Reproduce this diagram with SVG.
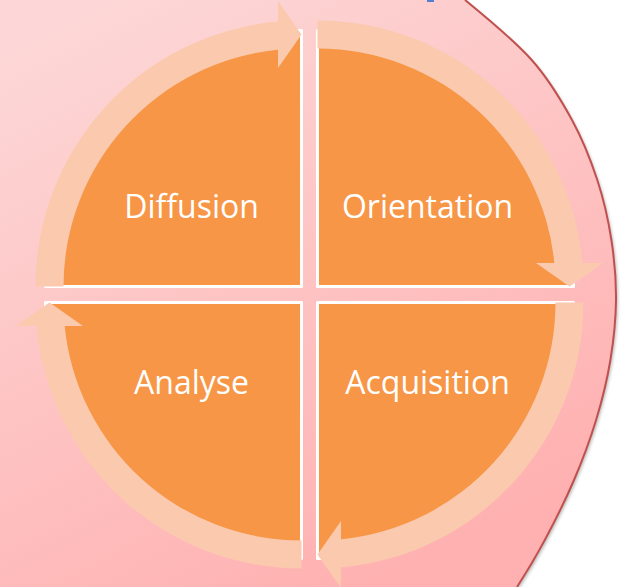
<svg xmlns="http://www.w3.org/2000/svg" width="624" height="587" viewBox="0 0 624 587">
  <defs>
    <linearGradient id="bg" gradientUnits="userSpaceOnUse" x1="100" y1="0" x2="400" y2="587">
      <stop offset="0" stop-color="#fdd7d7"/>
      <stop offset="1" stop-color="#ffb0b0"/>
    </linearGradient>
    <filter id="sh" x="-10%" y="-10%" width="130%" height="130%">
      <feDropShadow dx="2" dy="2" stdDeviation="1.5" flood-color="#000" flood-opacity="0.25"/>
    </filter>
    <path id="arc" d="M -266,0 A 266 266 0 0 1 -23.5,-264.96 L -23.5,-285.5 L 0,-252 L -23.5,-218.5 L -23.5,-236.84 A 238 238 0 0 0 -238,0 Z"/>
  </defs>
  <style>
    .quad { fill: #f79646; stroke: #ffffff; stroke-width: 3; stroke-linejoin: round; }
    .lbl { fill: #ffffff; font-family: "Open Sans", "Liberation Sans", sans-serif; font-size: 32px; text-anchor: middle; }
    .arrow { fill: #fac9ae; }
  </style>

  <g id="background">
    <path d="M -5,-5 L 459,-5 L 465,0 C 489.5,20 513.9,40 531.7,60 C 549.5,80 561.1,100 572,120 C 582.9,140 590.7,160 597.3,180 C 603.9,200 608.3,220 611.4,240 C 614.5,260 616.2,280 616,300 C 615.8,320 613.7,340 610.4,360 C 607.1,380 602.2,400 596.1,420 C 590,440 582.6,460 574,480 C 565.5,500 554.3,522.2 544.8,540 C 535.3,557.8 527.8,570.3 517,587 L 514,592 L -5,592 Z" fill="url(#bg)" filter="url(#sh)"/>
    <path d="M 465,0 C 489.5,20 513.9,40 531.7,60 C 549.5,80 561.1,100 572,120 C 582.9,140 590.7,160 597.3,180 C 603.9,200 608.3,220 611.4,240 C 614.5,260 616.2,280 616,300 C 615.8,320 613.7,340 610.4,360 C 607.1,380 602.2,400 596.1,420 C 590,440 582.6,460 574,480 C 565.5,500 554.3,522.2 544.8,540 C 535.3,557.8 527.8,570.3 517,587" fill="none" stroke="#c0504d" stroke-width="2"/>
    <rect x="427" y="0" width="7" height="2" fill="#4f81d0"/>
  </g>

  <g id="node-diffusion">
    <path class="quad" d="M 301.5,286.5 V 30.5 A 256 256 0 0 0 45.5,286.5 Z"/>
    <text class="lbl" x="191.5" y="218">Diffusion</text>
  </g>
  <g id="node-orientation">
    <path class="quad" d="M 317.5,286.5 V 30.5 A 256 256 0 0 1 573.5,286.5 Z"/>
    <text class="lbl" x="427.5" y="218">Orientation</text>
  </g>
  <g id="node-acquisition">
    <path class="quad" d="M 317.5,302.5 H 573.5 A 256 256 0 0 1 317.5,558.5 Z"/>
    <text class="lbl" x="427.5" y="394">Acquisition</text>
  </g>
  <g id="node-analyse">
    <path class="quad" d="M 301.5,302.5 V 558.5 A 256 256 0 0 1 45.5,302.5 Z"/>
    <text class="lbl" x="191.5" y="394">Analyse</text>
  </g>

  <g id="connectors">
    <use class="arrow" href="#arc" transform="translate(301.5,286.5)"/>
    <use class="arrow" href="#arc" transform="translate(317.5,286.5) rotate(90)"/>
    <use class="arrow" href="#arc" transform="translate(317.5,302.5) rotate(180)"/>
    <use class="arrow" href="#arc" transform="translate(301.5,302.5) rotate(270)"/>
  </g>
</svg>
